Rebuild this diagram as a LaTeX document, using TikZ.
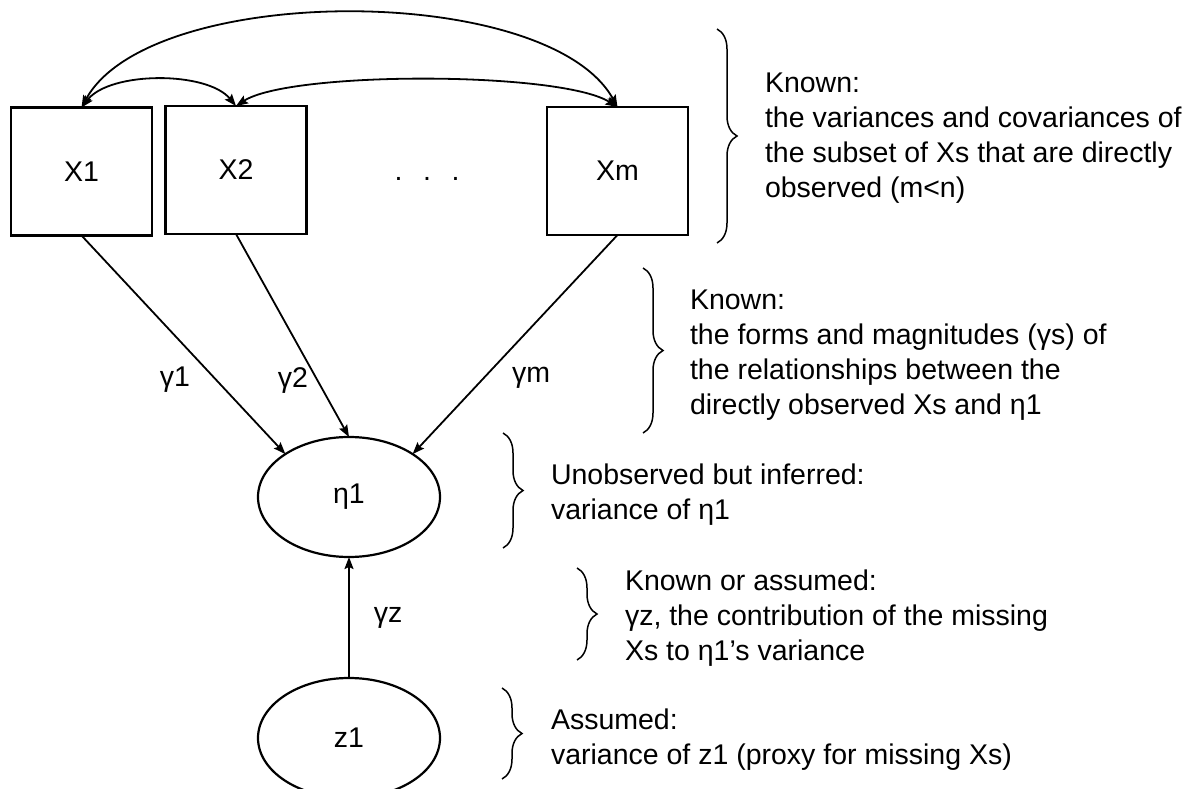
\documentclass[tikz,border=0pt]{standalone}
\usepackage{fontspec}
\setmainfont{Liberation Sans}
\usetikzlibrary{shapes.geometric,arrows.meta,decorations.pathreplacing}
\begin{document}
\begin{tikzpicture}[x=1pt,y=-1pt,
  every node/.style={font=\fontsize{28.5}{35}\selectfont, inner sep=0pt, outer sep=0pt},
  var/.style={draw, line width=2.2pt, minimum width=141pt, minimum height=128pt},
  lat/.style={draw, ellipse, line width=2.2pt, minimum width=182pt, minimum height=120pt},
  tip/.style={Stealth[length=12pt,width=9pt,inset=2pt]},
  pathedge/.style={line width=1.8pt, -{Stealth[length=12pt,width=9pt,inset=2pt]}},
  covedge/.style={line width=1.8pt, {Stealth[length=12pt,width=9pt,inset=2pt]}-{Stealth[length=12pt,width=9pt,inset=2pt]}},
  br/.style={line width=1.5pt, decorate, decoration={brace, amplitude=20pt}},
  note/.style={anchor=west, align=left}
]
\useasboundingbox (0,0) rectangle (1200,789);
\fill[white] (0,0) rectangle (1200,789);

% observed variables
\node[var] (X1) at (81.5,171.5) {X1};
\node[var] (X2) at (236,170) {X2};
\node[var] (Xm) at (617.5,171) {Xm};
\node[anchor=base] (dots) at (427,181) {.\hspace{20.6pt}.\hspace{20.6pt}.};

% latent variables
\node[lat] (eta) at (349,497) {η1};
\node[lat] (z1) at (349,738) {z1};

% covariances
\draw[covedge] (X1.north) .. controls (150,-18) and (548,-18) .. (Xm.north);
\draw[covedge] (X1.north) .. controls (110,71) and (207,71) .. (X2.north);
\draw[covedge] (X2.north) .. controls (290,71) and (560,71) .. (Xm.north);

% paths
\draw[pathedge] (X1.south) -- (eta.146);
\draw[pathedge] (X2.south) -- (eta.north);
\draw[pathedge] (Xm.south) -- (eta.34);
\draw[pathedge] (z1.north) -- (eta.south);

% path labels
\node (g1) at (175,380) {γ1};
\node (g2) at (293,380) {γ2};
\node (gm) at (531,378) {γm};
\node (gz) at (388,618) {γz};

% braces
\draw[br] (717,29) -- (717,243);
\draw[br] (643,268) -- (643,433);
\draw[br] (503,433) -- (503,548);
\draw[br] (577,568) -- (577,660);
\draw[br] (502,688) -- (502,779);

% notes
\node[note] (t1) at (765,138) {Known:\\the variances and covariances of\\the subset of Xs that are directly\\observed (m<n)};
\node[note] (t2) at (690,355) {Known:\\the forms and magnitudes (γs) of\\the relationships between the\\directly observed Xs and η1};
\node[note] (t3) at (551,495) {Unobserved but inferred:\\variance of η1};
\node[note] (t4) at (625,618) {Known or assumed:\\γz, the contribution of the missing\\Xs to η1’s variance};
\node[note] (t5) at (551,740) {Assumed:\\variance of z1 (proxy for missing Xs)};
\end{tikzpicture}
\end{document}
